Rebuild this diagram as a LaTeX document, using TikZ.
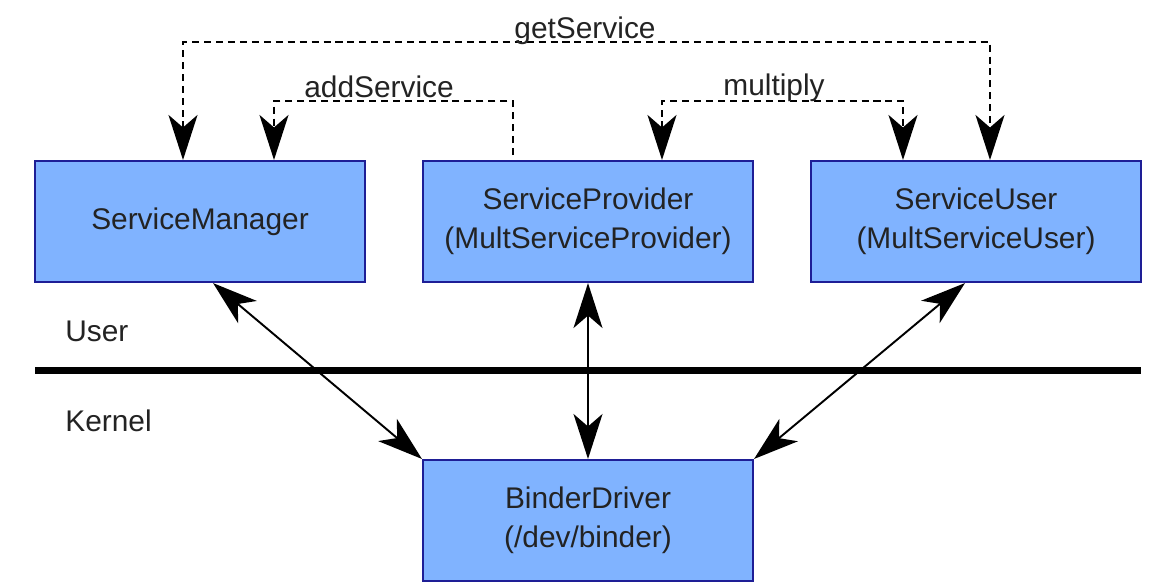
\documentclass[tikz,border=0pt]{standalone}
\usepackage{fontspec}
\setmainfont{Liberation Sans}
\usetikzlibrary{arrows.meta}
\definecolor{boxfill}{RGB}{128,179,255}
\definecolor{boxborder}{RGB}{30,30,150}
\definecolor{textgray}{RGB}{35,35,35}

\begin{document}
\begin{tikzpicture}[x=0.02cm, y=-0.02cm, font=\fontsize{17}{22}\selectfont]
%% coordinates are in pixels of the original drawing, y grows downwards
%% arc tips can be tuned through length/width/inset of the Stealth tip
\tikzstyle{box}=[draw=boxborder,fill=boxfill,line width=1.2pt,minimum width=6.6cm,minimum height=2.42cm,align=center,text=textgray,inner sep=0pt]
\tikzstyle{arc}=[<->,>={Stealth[length=0.9cm,width=0.58cm,inset=0.25cm]},line width=1.1pt]
\tikzstyle{callArc}=[arc,line width=1.4pt,dash pattern=on 4pt off 2.8pt]
\tikzstyle{callLabel}=[anchor=base,text=textgray,inner sep=0pt]
\tikzstyle{layerLabel}=[anchor=west,text=textgray,inner sep=0pt]
\useasboundingbox (0,0) rectangle (1169,586);
%% TikZ-figure elements %%
\node[box] at (200,221.5) (Service_Manager) {ServiceManager};
\node[box] at (588,221.5) (Service_Provider) {ServiceProvider\\(MultServiceProvider)};
\node[box] at (976,221.5) (Service_User) {ServiceUser\\(MultServiceUser)};
\node[box] at (588,520.5) (Binder_Driver) {BinderDriver\\(/dev/binder)};
%% user / kernel boundary
\coordinate (Border_L) at (35,370.5);
\coordinate (Border_R) at (1141,370.5);
\draw[line width=4pt] (Border_L) -- (Border_R);
\node[layerLabel] at (65,331) (User) {User};
\node[layerLabel] at (65,421) (Kernel) {Kernel};
%% ioctl arcs between processes and the driver
\draw[arc] ([xshift=0.26cm]Service_Manager.south) -- (Binder_Driver.north west);
\draw[arc] (Service_Provider.south) -- (Binder_Driver.north);
\draw[arc] ([xshift=-0.22cm]Service_User.south) -- (Binder_Driver.north east);
%% arc getService
\coordinate (Get_L) at (183,42);
\coordinate (Get_R) at (990,42);
\draw[callArc] (Service_Manager.north -| Get_L) -- (Get_L) -- (Get_R) -- (Service_User.north -| Get_R);
\node[callLabel] at (585,38) (Get_Label) {getService};
%% arc addService
\coordinate (Add_L) at (274,101);
\coordinate (Add_R) at (513,101);
\coordinate (Add_End) at (513,155);
\draw[callArc,->] (Add_End) -- (Add_R) -- (Add_L) -- (Service_Manager.north -| Add_L);
\node[callLabel] at (379,97) (Add_Label) {addService};
%% arc multiply
\coordinate (Mul_L) at (662,101);
\coordinate (Mul_R) at (903,101);
\draw[callArc] (Service_Provider.north -| Mul_L) -- (Mul_L) -- (Mul_R) -- (Service_User.north -| Mul_R);
\node[callLabel] at (774,95) (Mul_Label) {multiply};
\end{tikzpicture}
\end{document}
